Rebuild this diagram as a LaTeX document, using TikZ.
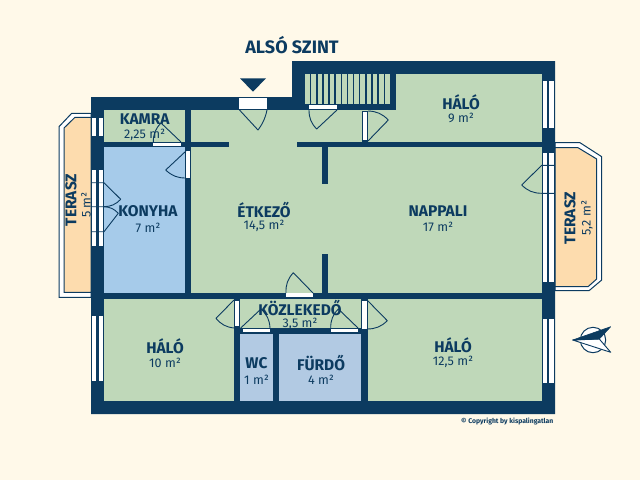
\documentclass[tikz,border=0pt]{standalone}
\usepackage{fontspec}
\setmainfont{Fira Sans}
\definecolor{wallc}{HTML}{0C3B60}
\definecolor{bgc}{HTML}{FFF9E9}
\definecolor{greenc}{HTML}{BFD8B9}
\definecolor{bluec}{HTML}{A6CBEA}
\definecolor{wetc}{HTML}{B2CAE3}
\definecolor{terc}{HTML}{FDDCAE}
\tikzset{
  wall/.style={fill=wallc,draw=none},
  room/.style={draw=none},
  opening/.style={fill=white,draw=none},
  doorline/.style={draw=wallc,line width=0.9pt,line join=round},
  glass/.style={fill=white,draw=wallc,line width=0.6pt},
  mullion/.style={fill=wallc,draw=none},
  terout/.style={fill=white,draw=wallc,line width=1pt},
  terin/.style={fill=terc,draw=wallc,line width=1pt},
  tread/.style={draw=wallc,line width=1.5pt},
  rname/.style={font=\fontsize{15.5}{15.5}\selectfont\bfseries,text=wallc,inner sep=0pt},
  rarea/.style={font=\fontsize{12.6}{12.6}\selectfont,text=wallc,inner sep=0pt},
}
\begin{document}
\begin{tikzpicture}[x=1pt,y=-1pt]
\path[use as bounding box,fill=bgc] (0,0) rectangle (640,480);
% terraces
\path[terout] (91,113.3) -- (71.7,113.3) -- (59,126.7) -- (59,297.3) -- (91,297.3) -- cycle;
\path[terin] (91,117.3) -- (75,117.3) -- (64,128) -- (64,292.3) -- (91,292.3) -- cycle;
\path[terout] (555,142.7) -- (580,142.7) -- (601.7,156.7) -- (601.7,280) -- (589,290.7) -- (555,290.7) -- cycle;
\path[terin] (555,147.7) -- (578,147.7) -- (596.7,159) -- (596.7,279) -- (588,286.7) -- (555,286.7) -- cycle;
% outer wall mass
\path[wall] (91,97) -- (292,97) -- (292,61) -- (555,61) -- (555,414) -- (91,414) -- cycle;
% rooms
\path[room,fill=greenc] (104,110) rectangle (185,142);
\path[room,fill=bluec] (104,147) rectangle (185,293);
\path[room,fill=greenc] (191,110) rectangle (541.7,293);
\path[room,fill=greenc] (396,73.5) rectangle (541.7,110);
\path[room,fill=greenc] (305,73.5) rectangle (390,104);
\path[room,fill=greenc] (104,298.7) rectangle (233.7,401);
\path[room,fill=greenc] (240,298.7) rectangle (361,328);
\path[room,fill=wetc] (240,334) rectangle (272.7,401);
\path[room,fill=wetc] (279,334) rectangle (361,401);
\path[room,fill=greenc] (367.7,298.7) rectangle (541.7,401);
% inner walls
\path[wall] (292,97) rectangle (305,110);
\path[wall] (305,104) rectangle (396,110);
\path[wall] (390,73.5) rectangle (396,110);
\path[wall] (191,142) rectangle (229,147);
\path[wall] (296.7,142) rectangle (541.7,147.3);
\path[wall] (321.5,147) rectangle (327.7,184);
\path[wall] (321.5,254) rectangle (327.7,293);
\path[wall] (362,110.5) rectangle (368,142);
% stairs
\foreach \i in {0,...,12} {\draw[tread] ({310.7+6.13*\i},73.5) -- ({310.7+6.13*\i},104);}
% windows
\foreach \a/\b in {117.3/136,169/246,315/381.7} {
  \path[glass] (91.5,\a) rectangle (103.5,\b);
  \path[mullion] (95.7,\a) rectangle (98.7,\b);
}
\foreach \a/\b in {80.7/128,152.7/282.7,318/383} {
  \path[glass] (542.3,\a) rectangle (554.5,\b);
  \path[mullion] (546.7,\a) rectangle (549.3,\b);
}
% door openings
\path[opening] (239.3,97.5) rectangle (266.7,108.5);
\path[opening] (309.3,105) rectangle (336.7,109);
\path[opening] (363,111.7) rectangle (367,140);
\path[opening] (153.3,142.6) rectangle (180.7,146);
\path[opening] (186,150.7) rectangle (190,178);
\path[opening] (286,293.4) rectangle (313,297);
\path[opening] (235,300.7) rectangle (238.5,326);
\path[opening] (362.3,300.7) rectangle (366.7,329);
\path[opening] (242.7,329) rectangle (270,332);
\path[opening] (330.7,329) rectangle (358,332);
% door leaves
\draw[doorline] (239.5,110) -- (258,130) to[bend right=12] (267,110);
\draw[doorline] (309,110) to[bend right=22] (316.7,129) -- (337,110);
\draw[doorline] (368,111) to[bend left=22] (388.3,120) -- (368,141);
\draw[doorline] (153.3,142) to[bend left=22] (161,123) -- (181,142);
\draw[doorline] (186,151) -- (165.7,170) to[bend right=22] (186,178);
\draw[doorline] (91.5,182.7) -- (104,182.7) -- (120.7,199.3);
\draw[doorline] (91.5,206.7) -- (104,206.7) to[bend right=22] (120.7,199.3);
\draw[doorline] (104,206.7) to[bend left=22] (118.3,213.3) -- (104,231.7) -- (91.5,231.7);
\draw[doorline] (554.5,165.3) -- (541.7,165.3) -- (521.7,185) to[bend right=22] (541.7,193.3) -- (554.5,193.3);
\draw[doorline] (286,293) to[bend left=22] (293.3,272.7) -- (313,293);
\draw[doorline] (234,300) -- (216,318.3) to[bend right=22] (234,328);
\draw[doorline] (367,300) -- (387.3,320.7) to[bend left=22] (367,329);
\draw[doorline] (240.7,328) -- (261,309) to[bend left=22] (270,328);
\draw[doorline] (330.7,328) to[bend left=22] (338.3,309) -- (358,328);
% entrance marker
\path[fill=wallc] (240,78.3) -- (266,78.3) -- (253,91.7) -- cycle;
% compass
\draw[wallc,line width=1pt,fill=white] (593,340) circle (12.7);
\path[fill=white,draw=wallc,line width=0.9pt,line join=round] (572.7,340) -- (599.3,339) -- (610.7,352.3) -- cycle;
\path[fill=wallc,draw=wallc,line width=0.6pt,line join=round] (572.7,340) -- (610.7,326.7) -- (599.3,339) -- cycle;
% labels
\node[font=\fontsize{18}{18}\selectfont\bfseries,text=wallc,inner sep=0pt] (title) at (292,45) {ALSÓ SZINT};
\node[rname] (n1) at (144.7,119) {KAMRA};
\node[rarea] (a1) at (144.7,134.7) {2,25 m²};
\node[rname] (n2) at (148,211.5) {KONYHA};
\node[rarea] (a2) at (148,228) {7 m²};
\node[rname] (n3) at (264,210) {ÉTKEZŐ};
\node[rarea] (a3) at (264,226) {14,5 m²};
\node[rname] (n4) at (438,211) {NAPPALI};
\node[rarea] (a4) at (438,227) {17 m²};
\node[rname] (n5) at (461,102) {HÁLÓ};
\node[rarea] (a5) at (461,118) {9 m²};
\node[rname] (n6) at (165,346) {HÁLÓ};
\node[rarea] (a6) at (165,363) {10 m²};
\node[rname] (n7) at (300,307.5) {KÖZLEKEDŐ};
\node[rarea] (a7) at (300,324) {3,5 m²};
\node[rname] (n8) at (256.5,363) {WC};
\node[rarea] (a8) at (256.5,380) {1 m²};
\node[rname] (n9) at (321,363) {FÜRDŐ};
\node[rarea] (a9) at (321,380) {4 m²};
\node[rname] (n10) at (453,345) {HÁLÓ};
\node[rarea] (a10) at (453,362) {12,5 m²};
\node[rname,rotate=90] (n11) at (71,200) {TERASZ};
\node[rarea,rotate=90] (a11) at (86,205) {5 m²};
\node[rname,rotate=90] (n12) at (570,218) {TERASZ};
\node[rarea,rotate=90] (a12) at (587,218) {5,2 m²};
\node[font=\fontsize{6.8}{6.8}\selectfont\bfseries,text=wallc,inner sep=0pt,anchor=east] (copy) at (553.5,421) {© Copyright by kispalingatlan};
\end{tikzpicture}
\end{document}
